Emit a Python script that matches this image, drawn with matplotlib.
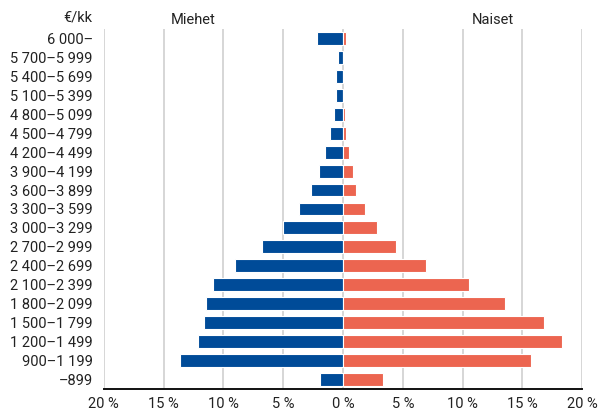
import numpy as np
import matplotlib
matplotlib.use("Agg")
import matplotlib.pyplot as plt

plt.rcParams['font.family'] = ['Roboto', 'DejaVu Sans']

# income classes, top to bottom as in the chart
classes = ['6 000–', '5 700–5 999', '5 400–5 699', '5 100–5 399', '4 800–5 099',
           '4 500–4 799', '4 200–4 499', '3 900–4 199', '3 600–3 899', '3 300–3 599',
           '3 000–3 299', '2 700–2 999', '2 400–2 699', '2 100–2 399', '1 800–2 099',
           '1 500–1 799', '1 200–1 499', '900–1 199', '–899']

# share of men / women in each class (%)
men = [2.2, 0.45, 0.55, 0.6, 0.8, 1.1, 1.5, 2.0, 2.7, 3.65, 5.0, 6.8, 9.05,
       10.85, 11.45, 11.6, 12.1, 13.65, 1.9]
women = [0.28, 0.05, 0.1, 0.1, 0.2, 0.28, 0.47, 0.8, 1.08, 1.8, 2.8, 4.45, 6.95,
         10.55, 13.55, 16.8, 18.3, 15.75, 3.3]

xticks = [-20, -15, -10, -5, 0, 5, 10, 15, 20]
xticklabels = ['20 %', '15 %', '10 %', '5 %', '0 %', '5 %', '10 %', '15 %', '20 %']

blue = '#004b98'
red = '#ec6550'

fig = plt.figure(figsize=(6.11, 4.13), dpi=100)
ax = fig.add_axes([0.170, 0.058, 0.783, 0.872])

y = np.arange(len(classes))[::-1]
ax.barh(y, -np.array(men), height=0.68, color=blue, edgecolor='white', linewidth=0.8, zorder=3)
ax.barh(y, women, height=0.68, color=red, edgecolor='white', linewidth=0.8, zorder=3)

ax.set_xlim(-20, 20)
ax.set_ylim(-0.5, 18.5)
ax.set_xticks(xticks)
ax.set_xticklabels(xticklabels, fontsize=10.5, color='#222222')
ax.set_yticks(y)
ax.set_yticklabels(classes, fontsize=10.5, color='#222222')
ax.tick_params(length=0, pad=8)
ax.tick_params(axis='x', pad=6)

ax.grid(axis='x', color='#cccccc', linewidth=1.1, zorder=0)
for s in ['top', 'right', 'left']:
    ax.spines[s].set_visible(False)
ax.spines['bottom'].set_linewidth(1.4)
ax.spines['bottom'].set_color('#111111')

fig.text(92 / 611, 1 - 17 / 413, '€/kk', ha='right', va='center', fontsize=10.5, color='#222222')
ax.text(-12.5, 18.95, 'Miehet', ha='center', va='center', fontsize=10.5, color='#222222')
ax.text(12.5, 18.95, 'Naiset', ha='center', va='center', fontsize=10.5, color='#222222')

fig.savefig('out.png', dpi=100)
